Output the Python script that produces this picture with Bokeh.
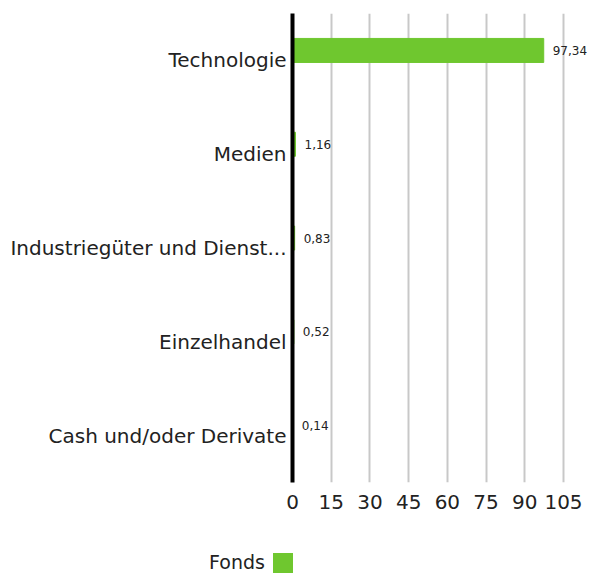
from bokeh.plotting import figure
from bokeh.models import Range1d, FactorRange, ColumnDataSource, FixedTicker, Div
from bokeh.layouts import column
from bokeh.transform import dodge
from bokeh.core.properties import value
from bokeh.embed import file_html
from bokeh.resources import INLINE

categories = ["Technologie", "Medien", "Industriegüter und Dienst...", "Einzelhandel", "Cash und/oder Derivate"]
fonds = [97.34, 1.16, 0.83, 0.52, 0.14]
x_ticks = [0, 15, 30, 45, 60, 75, 90, 105]
series_name = "Fonds"
bar_color = "#6fc72f"
FONT = "DejaVu Sans"

labels = [f"{v:.2f}".replace(".", ",") for v in fonds]
src = ColumnDataSource(dict(cat=categories, val=fonds, lab=labels))

# frame spans to the right edge so value labels are not clipped; 105 sits at x=563
p = figure(width=590, height=535, output_backend="svg", toolbar_location=None,
           y_range=FactorRange(factors=list(reversed(categories))),
           x_range=Range1d(0, 115.46),
           min_border_left=292, min_border_right=0, min_border_top=13, min_border_bottom=53)
p.outline_line_color = None
p.background_fill_color = "white"
p.border_fill_color = "white"

p.hbar(y=dodge("cat", 0.106, range=p.y_range), right="val", left=0, height=0.256,
       color=bar_color, source=src)
p.text(x="val", y=dodge("cat", 0.106, range=p.y_range), text="lab", source=src,
       x_offset=9, text_baseline="middle", text_align="left",
       text_font=value(FONT), text_font_size="12px", text_color="#222222")

p.xgrid.grid_line_color = "#c8c8c8"
p.xgrid.grid_line_width = 2
p.ygrid.grid_line_color = None
p.xaxis.ticker = FixedTicker(ticks=x_ticks)
p.xaxis.axis_line_color = None
p.xaxis.major_tick_line_color = None
p.xaxis.minor_tick_line_color = None
p.xaxis.major_label_text_font = FONT
p.xaxis.major_label_text_font_size = "20px"
p.xaxis.major_label_text_color = "#222222"
p.xaxis.major_label_standoff = 6

p.yaxis.axis_line_color = "black"
p.yaxis.axis_line_width = 4
p.yaxis.major_tick_line_color = None
p.yaxis.minor_tick_line_color = None
p.yaxis.major_label_text_font = FONT
p.yaxis.major_label_text_font_size = "20px"
p.yaxis.major_label_text_color = "#222222"
p.yaxis.major_label_standoff = 0

legend_html = (
    f'<div style="position:relative;width:590px;height:38px;overflow:visible;font-family:\'{FONT}\';'
    f'font-size:19px;color:#222222;">'
    f'<span style="position:absolute;right:325px;top:17px;line-height:20px;white-space:nowrap;">{series_name}</span>'
    f'<span style="position:absolute;left:273px;top:18px;width:20px;height:20px;'
    f'background:{bar_color};"></span></div>'
)
legend = Div(text=legend_html, width=590, height=38, margin=0)

layout = column(p, legend, spacing=0)
open("out.html", "w").write(file_html(layout, INLINE))
